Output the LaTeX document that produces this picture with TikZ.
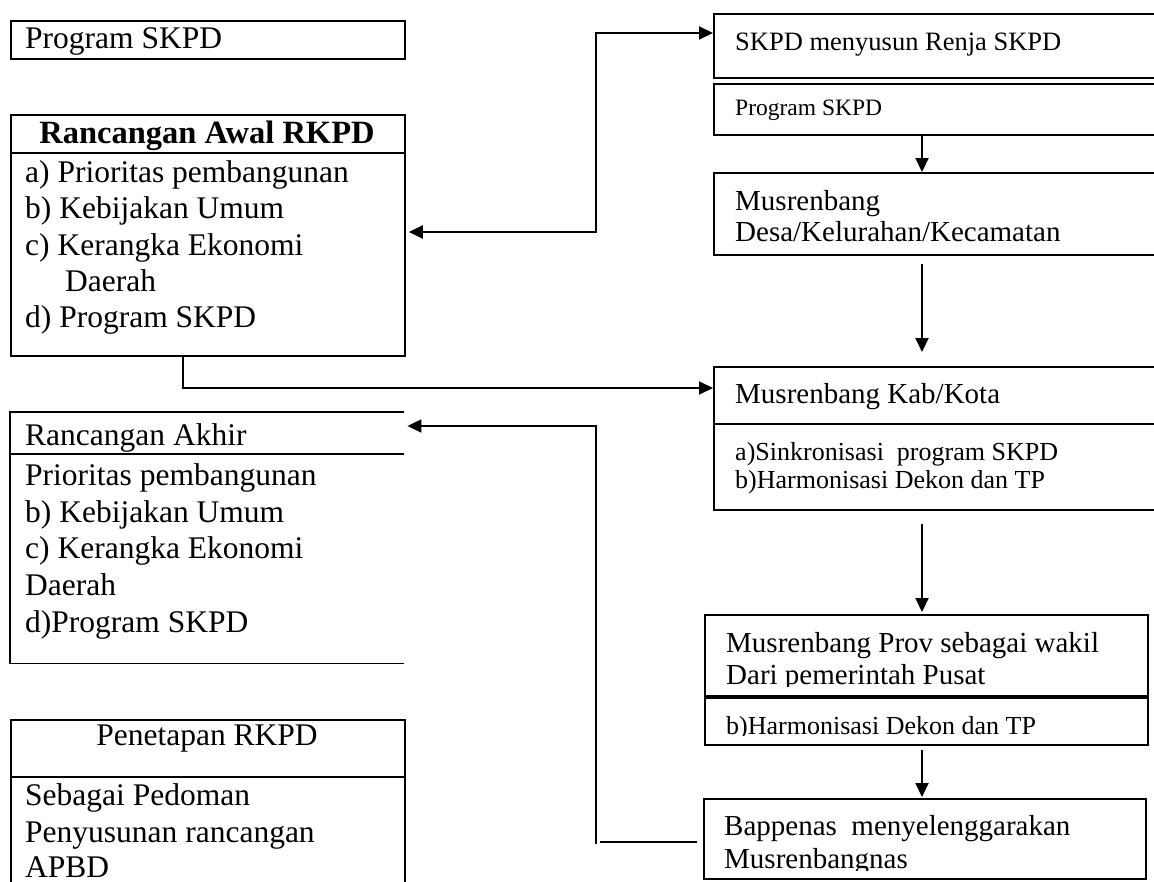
\documentclass[tikz,border=0pt]{standalone}
\usepackage{fontspec}
\setmainfont{Liberation Serif}
\usetikzlibrary{arrows.meta}
\begin{document}
\begin{tikzpicture}[x=1pt,y=-1pt,
  box/.style={draw, line width=1.8pt, anchor=north west, inner sep=0pt},
  rule/.style={line width=1.8pt},
  link/.style={line width=2pt},
  arr/.style={link, -{Triangle[length=14pt,width=13pt]}},
  biarr/.style={link, {Triangle[length=14pt,width=13pt]}-{Triangle[length=14pt,width=13pt]}},
  txt/.style={anchor=base west, inner sep=0pt},
  big/.style={font=\fontsize{31.5}{36}\selectfont},
  mid/.style={font=\fontsize{29}{32}\selectfont},
  sml/.style={font=\fontsize{26}{28}\selectfont}]
\useasboundingbox (0,0) rectangle (1154,881);
\clip (0,0) rectangle (1154,881);

% ---------- left column ----------
\node[box, minimum width=394pt, minimum height=38pt] (prog) at (10,20) {};
\node[txt, big] (progT) at (25,48) {Program SKPD};

\node[box, minimum width=394pt, minimum height=241pt] (awal) at (10,114) {};
\draw[rule] (awal.west |- 0,153) -- (awal.east |- 0,153);
\node[anchor=base, inner sep=0pt, font=\fontsize{32.5}{36}\selectfont\bfseries] (awalH) at (207,143) {Rancangan Awal RKPD};
\node[txt, big] (awA) at (25,182) {a) Prioritas pembangunan};
\node[txt, big] (awB) at (25,218) {b) Kebijakan Umum};
\node[txt, big] (awC) at (25,255) {c) Kerangka Ekonomi};
\node[txt, big] (awC2) at (65,291) {Daerah};
\node[txt, big] (awD) at (25,327) {d) Program SKPD};

\node[anchor=north west, inner sep=0pt, minimum width=394pt, minimum height=251pt] (akhir) at (10,412) {};
\draw[rule] (akhir.north east) -- (akhir.north west) -- (akhir.south west) -- (akhir.south east);
\draw[rule] (akhir.west |- 0,454) -- (akhir.east |- 0,454);
\node[txt, big] (akH) at (25,445) {Rancangan Akhir};
\node[txt, big] (akA) at (25,485) {Prioritas pembangunan};
\node[txt, big] (akB) at (25,522) {b) Kebijakan Umum};
\node[txt, big] (akC) at (25,558) {c) Kerangka Ekonomi};
\node[txt, big] (akC2) at (25,595) {Daerah};
\node[txt, big] (akD) at (25,632) {d)Program SKPD};

\node[box, minimum width=394pt, minimum height=200pt] (pen) at (10,719) {};
\draw[rule] (pen.west |- 0,777) -- (pen.east |- 0,777);
\node[anchor=base, inner sep=0pt, big] (penH) at (207,745) {Penetapan RKPD};
\node[txt, big] (penA) at (25,805) {Sebagai Pedoman};
\node[txt, big] (penB) at (25,842) {Penyusunan rancangan};
\node[txt, big] (penC) at (25,877) {APBD};

% ---------- right column ----------
\node[box, minimum width=460pt, minimum height=64pt] (skpd) at (713,13) {};
\node[txt, font=\fontsize{26.5}{29}\selectfont] (skpdT) at (735,50) {SKPD menyusun Renja SKPD};

\node[box, minimum width=460pt, minimum height=51pt] (progr) at (713,83) {};
\node[txt, font=\fontsize{23.5}{26}\selectfont] (progrT) at (735,115) {Program SKPD};

\node[box, minimum width=460pt, minimum height=82pt] (desa) at (713,172) {};
\node[txt, mid] (desaA) at (735,210) {Musrenbang};
\node[txt, mid] (desaB) at (735,241) {Desa/Kelurahan/Kecamatan};

\node[box, minimum width=460pt, minimum height=143pt] (kab) at (713,366) {};
\draw[rule] (kab.west |- 0,424) -- (kab.east |- 0,424);
\node[txt, mid] (kabH) at (735,403) {Musrenbang Kab/Kota};
\node[txt, sml] (kabA) at (735,460) {a)Sinkronisasi~~program SKPD};
\node[txt, sml] (kabB) at (735,488) {b)Harmonisasi Dekon dan TP};

\node[box, minimum width=443pt, minimum height=81pt] (prov) at (704,614) {};
\node[txt, mid] (provA) at (726,652) {Musrenbang Prov sebagai wakil};
\begin{scope}
  \clip (704,600) rectangle (1147,686);
  \node[txt, mid] (provB) at (726,684) {Dari pemerintah Pusat};
\end{scope}

\node[box, minimum width=443pt, minimum height=47pt] (prov2) at (704,697) {};
\begin{scope}
  \clip (704,697) rectangle (1147,735);
  \node[txt, sml] (prov2T) at (726,734) {b)Harmonisasi Dekon dan TP};
\end{scope}

\node[box, minimum width=442pt, minimum height=80pt] (bap) at (703,798) {};
\node[txt, mid] (bapA) at (724,835) {Bappenas~~menyelenggarakan};
\begin{scope}
  \clip (703,798) rectangle (1145,870);
  \node[txt, mid] (bapB) at (724,868) {Musrenbangnas};
\end{scope}

% ---------- vertical flow on the right ----------
\coordinate (colx) at (922,0);
\draw[arr] (progr.south -| colx) -- (desa.north -| colx);
\draw[arr, shorten <=8pt, shorten >=14pt] (desa.south -| colx) -- (kab.north -| colx);
\draw[arr, shorten <=13pt, shorten >=2pt] (kab.south -| colx) -- (prov.north -| colx);
\draw[arr, shorten <=4pt, shorten >=1pt] (prov2.south -| colx) -- (bap.north -| colx);

% ---------- connectors between the columns ----------
\coordinate (j1) at (596,232);
\coordinate (j2) at (596,33);
\draw[biarr] ([xshift=3pt]awal.east |- j1) -- (j1) -- (j2) -- (skpd.west |- j2);

\coordinate (j3) at (183,388);
\draw[arr] (awal.south -| j3) -- (j3) -- (kab.west |- j3);

\coordinate (j6) at (600,842);
\draw[link] ([xshift=-6pt]bap.west |- j6) -- (j6);
\coordinate (j4) at (596,844);
\coordinate (j5) at (596,426);
\draw[arr] (j4) -- (j5) -- ([xshift=3pt]akhir.east |- j5);
\end{tikzpicture}
\end{document}
